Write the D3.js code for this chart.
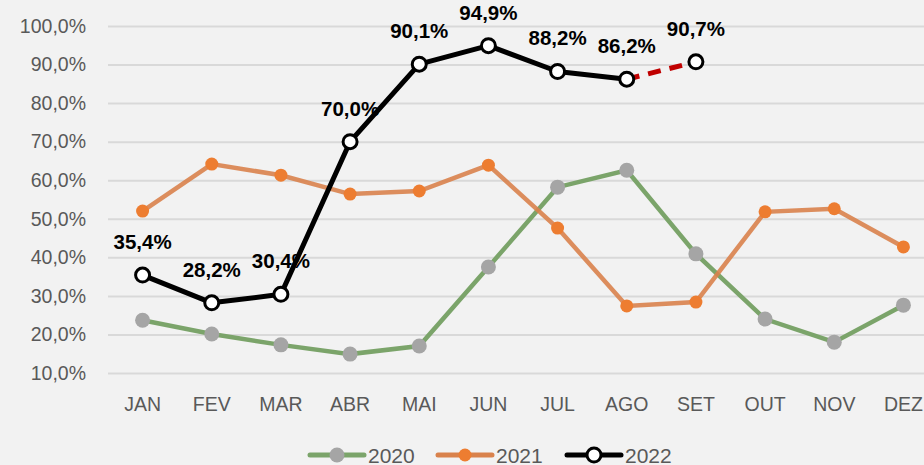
<!DOCTYPE html>
<html>
<head>
<meta charset="utf-8">
<script src="https://cdn.jsdelivr.net/npm/d3@7"></script>
<style>
  body { margin: 0; background: #f2f2f2; }
  svg { display: block; font-family: "Liberation Sans", Arial, sans-serif; }
</style>
</head>
<body>
<div id="chart"></div>
<script>
var w = 924;
var h = 465;

var months = ["JAN", "FEV", "MAR", "ABR", "MAI", "JUN", "JUL", "AGO", "SET", "OUT", "NOV", "DEZ"];
var yTicks = [10, 20, 30, 40, 50, 60, 70, 80, 90, 100];
var values2020 = [23.7, 20.1, 17.3, 14.9, 17.0, 37.5, 58.2, 62.6, 40.9, 24.0, 18.0, 27.6];
var values2021 = [52.0, 64.2, 61.3, 56.4, 57.2, 63.9, 47.6, 27.4, 28.4, 51.8, 52.6, 42.7];
var values2022 = [35.4, 28.2, 30.4, 70.0, 90.1, 94.9, 88.2, 86.2, 90.7];
var solidUntil = 8; // 2022: JAN..AGO solid, AGO->SET dashed

var fmt = function(v) { return v.toFixed(1).replace(".", ",") + "%"; };

var xScale = d3.scaleBand()
               .domain(months)
               .range([108, 938]);

var yScale = d3.scaleLinear()
               .domain([10, 100])
               .range([373, 26]);

var svg = d3.select("#chart")
            .append("svg")
            .attr("width", w)
            .attr("height", h);

svg.append("rect")
   .attr("width", w)
   .attr("height", h)
   .attr("fill", "#f2f2f2");

// grid
var yAxis = d3.axisLeft(yScale)
              .tickValues(yTicks)
              .tickSize(-(938 - 108))
              .tickPadding(22)
              .tickFormat(fmt);

var gy = svg.append("g")
   .attr("transform", "translate(108,0)")
   .call(yAxis);
gy.select(".domain").remove();
gy.selectAll(".tick line").attr("stroke", "#d9d9d9").attr("stroke-width", 2);
gy.selectAll(".tick text")
  .attr("fill", "#595959")
  .attr("font-size", 19.5);

var xAxis = d3.axisBottom(xScale).tickSize(0).tickPadding(24);
var gx = svg.append("g")
   .attr("transform", "translate(0,373)")
   .call(xAxis);
gx.select(".domain").remove();
gx.selectAll(".tick text")
  .attr("fill", "#595959")
  .attr("font-size", 19.5);

var cx = function(d, i) { return xScale(months[i]) + xScale.bandwidth() / 2; };
var line = d3.line()
             .x(function(d) { return d.x; })
             .y(function(d) { return d.y; });
var pts = function(arr) {
  return arr.map(function(v, i) { return {x: cx(v, i), y: yScale(v), v: v}; });
};

// 2020
var p2020 = pts(values2020);
svg.append("path")
   .attr("d", line(p2020))
   .attr("fill", "none")
   .attr("stroke", "#7ba46a")
   .attr("stroke-width", 4.5);
svg.selectAll(".m2020")
   .data(p2020)
   .enter()
   .append("circle")
   .attr("cx", function(d) { return d.x; })
   .attr("cy", function(d) { return d.y; })
   .attr("r", 7.5)
   .attr("fill", "#a5a5a5");

// 2021
var p2021 = pts(values2021);
svg.append("path")
   .attr("d", line(p2021))
   .attr("fill", "none")
   .attr("stroke", "#d9824c")
   .attr("stroke-opacity", 0.9)
   .attr("stroke-width", 4.5);
svg.selectAll(".m2021")
   .data(p2021)
   .enter()
   .append("circle")
   .attr("cx", function(d) { return d.x; })
   .attr("cy", function(d) { return d.y; })
   .attr("r", 6.5)
   .attr("fill", "#ed7d31");

// 2022
var p2022 = pts(values2022);
svg.append("path")
   .attr("d", line(p2022.slice(0, solidUntil)))
   .attr("fill", "none")
   .attr("stroke", "#000")
   .attr("stroke-width", 5)
   .attr("stroke-linejoin", "round");
svg.append("path")
   .attr("d", line(p2022.slice(solidUntil - 1)))
   .attr("fill", "none")
   .attr("stroke", "#c00000")
   .attr("stroke-width", 5)
   .attr("stroke-dasharray", "13,9");
svg.selectAll(".m2022")
   .data(p2022)
   .enter()
   .append("circle")
   .attr("cx", function(d) { return d.x; })
   .attr("cy", function(d) { return d.y; })
   .attr("r", 7)
   .attr("fill", "#fff")
   .attr("stroke", "#000")
   .attr("stroke-width", 3);
svg.selectAll(".l2022")
   .data(p2022)
   .enter()
   .append("text")
   .attr("x", function(d) { return d.x; })
   .attr("y", function(d) { return d.y - 26; })
   .attr("text-anchor", "middle")
   .attr("font-size", 20.5)
   .attr("font-weight", "bold")
   .attr("fill", "#000")
   .text(function(d) { return fmt(d.v); });

// legend
var legend = [
  {name: "2020", line: "#7ba46a", fill: "#a5a5a5", stroke: "none", r: 7.5, x: 310},
  {name: "2021", line: "#d9824c", fill: "#ed7d31", stroke: "none", r: 6.5, x: 438},
  {name: "2022", line: "#000", fill: "#fff", stroke: "#000", r: 7, x: 567}
];
var lg = svg.selectAll(".legend")
            .data(legend)
            .enter()
            .append("g")
            .attr("transform", function(d) { return "translate(" + d.x + ",455)"; });
lg.append("line")
  .attr("x1", 0).attr("x2", 54)
  .attr("stroke", function(d) { return d.line; })
  .attr("stroke-width", 5)
  .attr("stroke-linecap", "round");
lg.append("circle")
  .attr("cx", 27)
  .attr("r", function(d) { return d.r; })
  .attr("fill", function(d) { return d.fill; })
  .attr("stroke", function(d) { return d.stroke; })
  .attr("stroke-width", 3);
lg.append("text")
  .attr("x", 58)
  .attr("y", 7.5)
  .attr("font-size", 21)
  .attr("fill", "#595959")
  .text(function(d) { return d.name; });
</script>
</body>
</html>
